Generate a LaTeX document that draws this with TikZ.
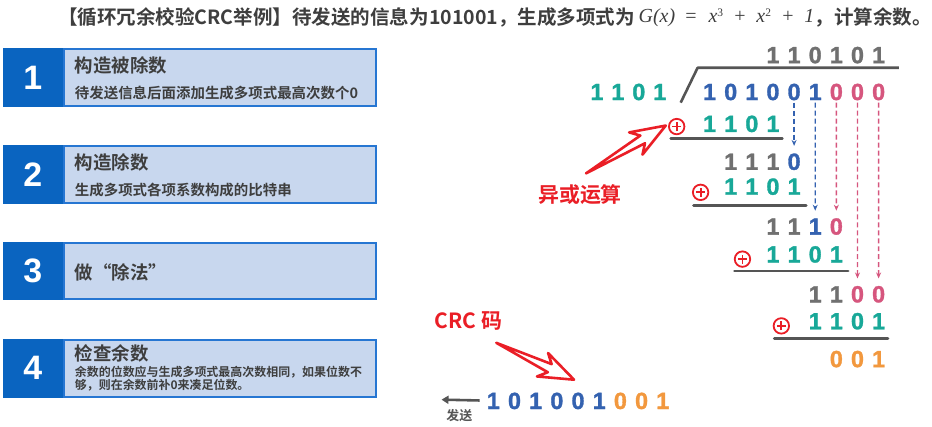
\documentclass[tikz,border=0pt]{standalone}
\usepackage{fontspec}
\usetikzlibrary{calc,arrows.meta}
\newfontfamily\cjk{Noto Sans CJK SC Bold}
\newfontfamily\dgf{Liberation Sans Bold}[FakeBold=1.3]
\newfontfamily\numf{Liberation Sans Bold}
\newfontfamily\tms{Liberation Serif Italic}
\newfontfamily\tmsu{Liberation Serif}
\definecolor{ct}{RGB}{24,168,152}
\definecolor{cb}{RGB}{52,98,176}
\definecolor{cp}{RGB}{214,86,126}
\definecolor{cg}{RGB}{112,112,112}
\definecolor{co}{RGB}{242,152,62}
\definecolor{cr}{RGB}{234,30,38}
\definecolor{tgray}{RGB}{62,62,62}
\definecolor{dkblue}{RGB}{10,100,192}
\definecolor{ltblue}{RGB}{200,215,238}
\definecolor{bdblue}{RGB}{38,118,210}
\definecolor{lgray}{RGB}{85,85,85}
\newcommand\digrow[5]{\foreach \dd/\cc [count=\ii] in {#5}{\node[dgt,text=\cc] (#1\ii) at ({#2+(\ii-1)*#4},#3) {\dd};}}
\newcommand\blockarrow[2]{\draw[bigarr] (#1) -- ($(#2)!27pt!(#1)!4.5pt!90:(#1)$) -- ($(#2)!35pt!(#1)!13pt!90:(#1)$) -- (#2) -- ($(#2)!35pt!(#1)!13pt!-90:(#1)$) -- ($(#2)!27pt!(#1)!4.5pt!-90:(#1)$) -- cycle;}
\begin{document}
\begin{tikzpicture}[x=1pt,y=-1pt,
  dgt/.style={font=\dgf\fontsize{23.5}{24}\selectfont,inner sep=0pt,text height=16.8pt,text depth=0pt},
  ttl/.style={font=\cjk\fontsize{19.6}{21}\selectfont,inner sep=0pt,text=tgray},
  btitle/.style={font=\cjk\fontsize{18.5}{20}\selectfont,inner sep=0pt,text=tgray,anchor=west},
  bsub/.style={font=\cjk\fontsize{14.5}{16}\selectfont,inner sep=0pt,text=tgray,anchor=west},
  lbox/.style={draw=bdblue,line width=2pt,fill=ltblue,minimum width=313pt,minimum height=57pt,anchor=west,inner sep=0pt},
  dbox/.style={fill=dkblue,minimum width=60pt,minimum height=59pt,inner sep=0pt,text=white,font=\numf\fontsize{34}{34}\selectfont},
  xo/.style={circle,draw=cr,line width=1.8pt,minimum size=15.5pt,inner sep=0pt,
     path picture={\draw[cr,line width=1.8pt] ([xshift=-4.5pt]path picture bounding box.center) -- ([xshift=4.5pt]path picture bounding box.center) ([yshift=-4.5pt]path picture bounding box.center) -- ([yshift=4.5pt]path picture bounding box.center);}},
  ulin/.style={draw=lgray,line width=2.8pt,line cap=round},
  dshb/.style={line width=1.4pt,dash pattern=on 5pt off 3pt,-{Stealth[length=6pt,width=5pt]},shorten <=2.5pt,shorten >=7pt},
  bigarr/.style={draw=cr,fill=white,line width=2.6pt,line join=round},
  redlbl/.style={font=\cjk\fontsize{21}{22}\selectfont,text=cr,inner sep=0pt}
]
\path[fill=white] (0,0) rectangle (932,428);
% title
\node[ttl,anchor=west] (t1) at (58,18) {【循环冗余校验CRC举例】待发送的信息为101001，生成多项式为};
\node[anchor=west,inner sep=0pt,text=tgray,font=\tms\fontsize{20}{20}\selectfont] (t3) at (t1.east) {\,G(x)\hspace{9pt}=\hspace{11pt}x\raisebox{6.5pt}{\tmsu\fontsize{11.5}{11.5}\selectfont 3}\hspace{10pt}+\hspace{10pt}x\raisebox{6.5pt}{\tmsu\fontsize{11.5}{11.5}\selectfont 2}\hspace{10pt}+\hspace{10pt}1};
\node[ttl,anchor=west] (t4) at (t3.east) {，计算余数。};
% left boxes
\node[lbox] (b1) at (63,78) {};
\node[dbox] (n1) at (33,78) {1};
\node[btitle] (b1t) at (75,66) {构造被除数};
\node[bsub] (b1s) at (75,93) {待发送信息后面添加生成多项式最高次数个0};
\node[lbox] (b2) at (63,175) {};
\node[dbox] (n2) at (33,175) {2};
\node[btitle] (b2t) at (75,163) {构造除数};
\node[bsub] (b2s) at (75,191) {生成多项式各项系数构成的比特串};
\node[lbox] (b3) at (63,272) {};
\node[dbox] (n3) at (33,272) {3};
\node[btitle] (b3t) at (75,273) {做“除法”};
\node[lbox] (b4) at (63,369.5) {};
\node[dbox] (n4) at (33,369.5) {4};
\node[btitle] (b4t) at (75,355) {检查余数};
\node[anchor=north west,inner sep=0pt,text=tgray,font=\cjk\fontsize{12}{13}\selectfont,align=left] (b4s) at (75,367.5) {余数的位数应与生成多项式最高次数相同，如果位数不\\够，则在余数前补0来凑足位数。};
% division
\coordinate (k1) at (683,103);
\coordinate (k2) at (700,68);
\coordinate (k3) at (902,68);
\draw[lgray,line width=2.6pt,line join=round] (k1) -- (k2) -- (k3);
\digrow{q}{775.6}{55}{21.2}{1/cg,1/cg,0/cg,1/cg,0/cg,1/cg}
\digrow{dr}{599}{92}{21}{1/ct,1/ct,0/ct,1/ct}
\digrow{dv}{712}{92}{21.2}{1/cb,0/cb,1/cb,0/cb,0/cb,1/cb,0/cp,0/cp,0/cp}
% step 1
\node[xo] (x1) at (679,127) {};
\digrow{sa}{712}{124}{21.2}{1/ct,1/ct,0/ct,1/ct}
\draw[ulin] (673,139) -- (785,139);
\digrow{ra}{733.2}{162}{21.2}{1/cg,1/cg,1/cg,0/cb}
% step 2
\node[xo] (x2) at (703,193) {};
\digrow{sb}{733.2}{187}{21.2}{1/ct,1/ct,0/ct,1/ct}
\draw[ulin] (696,206) -- (809,206);
\digrow{rb}{775.6}{227}{21.2}{1/cg,1/cg,1/cb,0/cp}
% step 3
\node[xo] (x3) at (745,260) {};
\digrow{sc}{775.6}{255}{21.2}{1/ct,1/ct,0/ct,1/ct}
\draw[ulin] (737,272) -- (851,272);
\digrow{rc}{818}{295}{21.2}{1/cg,1/cg,0/cp,0/cp}
% step 4
\node[xo] (x4) at (784,327) {};
\digrow{sd}{818}{322}{21.2}{1/ct,1/ct,0/ct,1/ct}
\draw[ulin] (777,340) -- (891,340);
\digrow{rm}{839.2}{360}{21.2}{0/co,0/co,1/co}
% dashed bring-down arrows
\draw[dshb,cb] (dv5.south) -- (ra4.north);
\draw[dshb,cb] (dv6.south) -- (rb3.north);
\draw[dshb,cp] (dv7.south) -- (rb4.north);
\draw[dshb,cp] (dv8.south) -- (rc3.north);
\draw[dshb,cp] (dv9.south) -- (rc4.north);
% XOR label
\node[redlbl] (xl) at (582,195) {异或运算};
\coordinate (a1t) at (588,174);
\coordinate (a1h) at (668,126);
\blockarrow{a1t}{a1h}
% CRC code
\node[redlbl] (cl) at (470,322) {CRC 码};
\coordinate (a2t) at (498,344);
\coordinate (a2h) at (576,381);
\blockarrow{a2t}{a2h}
\digrow{cc}{495}{402}{21.25}{1/cb,0/cb,1/cb,0/cb,0/cb,1/cb,0/co,0/co,1/co}
\coordinate (snd) at (443,401);
\draw[lgray,line width=2.6pt,-{Triangle[length=7pt,width=8pt]},shorten <=7pt] (cc1.west) -- (snd);
\node[inner sep=0pt,text=lgray,font=\cjk\fontsize{13}{14}\selectfont] (sl) at (461,417) {发送};
\end{tikzpicture}
\end{document}
